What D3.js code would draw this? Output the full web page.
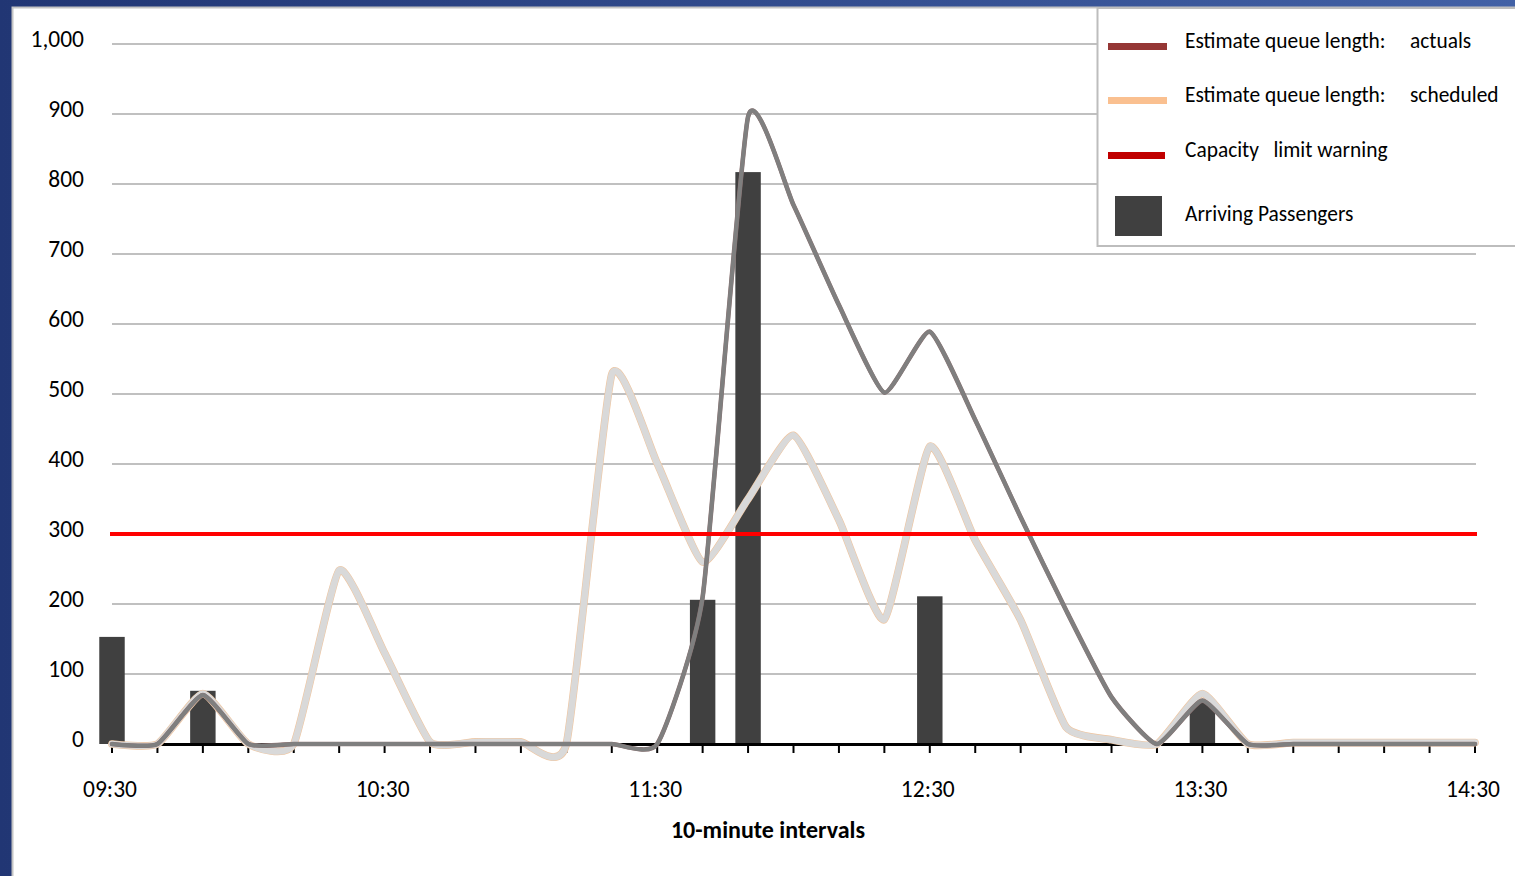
<!DOCTYPE html>
<html>
<head>
<meta charset="utf-8">
<script src="https://cdn.jsdelivr.net/npm/d3@7"></script>
<style>
  body { margin: 0; background: #ffffff; }
  svg text { font-family: Calibri, Carlito, Lato, sans-serif; fill: #000; }
</style>
</head>
<body>
<div id="chart"></div>
<script>
// 10-minute slots from 09:30 to 14:30 (31 points)
var hourLabels = ["09:30", "10:30", "11:30", "12:30", "13:30", "14:30"];
var yTicks = [0, 100, 200, 300, 400, 500, 600, 700, 800, 900, 1000];

var arrivals = [153, 0, 76, 0, 0, 0, 0, 0, 0, 0, 0, 0, 0, 206, 817, 0,
  0, 0, 211, 0, 0, 0, 0, 0, 63, 0, 0, 0, 0, 0, 0];

var queueActuals = [0, 0, 70, 0, 0, 0, 0, 0, 0, 0, 0, 0, 0, 210, 896, 770,
  627, 502, 589, 463, 324, 191, 67, 0, 62, 0, 0, 0, 0, 0, 0];

var queueScheduled = [0, 0, 72, 0, 0, 248, 130, 3, 3, 3, 0, 528, 401, 260, 350, 441,
  320, 178, 425, 291, 177, 24, 6, 0, 72, 0, 2, 2, 2, 2, 2];

var capacityLimit = 300;

var legendItems = [
  { label: "Estimate queue length:", extra: "actuals", color: "#953735", type: "line" },
  { label: "Estimate queue length:", extra: "scheduled", color: "#fac090", type: "line" },
  { label: "Capacity   limit warning", extra: "", color: "#c00000", type: "line" },
  { label: "Arriving Passengers", extra: "", color: "#404040", type: "box" }
];

var width = 1515,
  height = 876;

var svg = d3.select("#chart")
  .append("svg")
  .attr("width", width)
  .attr("height", height);

// blue slide frame behind the chart
var defs = svg.append("defs");
var grad = defs.append("linearGradient")
  .attr("id", "frame")
  .attr("x1", "0%").attr("x2", "100%");
grad.append("stop").attr("offset", "0%").attr("stop-color", "#213674");
grad.append("stop").attr("offset", "100%").attr("stop-color", "#4261a6");

svg.append("rect")
  .attr("width", width)
  .attr("height", height)
  .attr("fill", "url(#frame)");

svg.append("rect")
  .attr("x", 12.5)
  .attr("y", 7.5)
  .attr("width", width)
  .attr("height", height)
  .attr("fill", "#fff")
  .attr("stroke", "#c4c4c4")
  .attr("stroke-width", 2);

var x = d3.scaleLinear()
  .domain([0, 30])
  .range([112, 1475]);

var y = d3.scaleLinear()
  .domain([0, 1000])
  .range([744, 44]);

var step = x(1) - x(0);

// gridlines
svg.append("g")
  .attr("class", "grid")
  .selectAll("line")
  .data(yTicks.filter(function(d) { return d > 0; }))
  .enter().append("line")
  .attr("x1", x(0))
  .attr("x2", x(30) + 1)
  .attr("y1", function(d) { return y(d); })
  .attr("y2", function(d) { return y(d); })
  .attr("stroke", "#c0c0c0")
  .attr("stroke-width", 2);

// y labels
svg.append("g")
  .selectAll("text")
  .data(yTicks)
  .enter().append("text")
  .attr("x", 84)
  .attr("y", function(d) { return y(d) + 3; })
  .attr("text-anchor", "end")
  .attr("font-size", "23.5px")
  .text(function(d) { return d3.format(",")(d); });

// arriving passengers bars
svg.append("g")
  .selectAll("rect")
  .data(arrivals.map(function(v, i) { return { i: i, v: v }; }).filter(function(d) { return d.v > 0; }))
  .enter().append("rect")
  .attr("x", function(d) { return x(d.i) - step * 0.28; })
  .attr("width", step * 0.56)
  .attr("y", function(d) { return y(d.v); })
  .attr("height", function(d) { return y(0) - y(d.v); })
  .attr("fill", "#404040");

// x axis line and ticks
svg.append("line")
  .attr("x1", x(0) - 2)
  .attr("x2", x(30) + 2)
  .attr("y1", y(0) + 0.5)
  .attr("y2", y(0) + 0.5)
  .attr("stroke", "#000")
  .attr("stroke-width", 3);

svg.append("g")
  .selectAll("line")
  .data(d3.range(0, 31))
  .enter().append("line")
  .attr("x1", function(d) { return x(d); })
  .attr("x2", function(d) { return x(d); })
  .attr("y1", y(0))
  .attr("y2", y(0) + 9)
  .attr("stroke", "#000")
  .attr("stroke-width", 2);

svg.append("g")
  .selectAll("text")
  .data(hourLabels)
  .enter().append("text")
  .attr("x", function(d, i) { return x(i * 6) - 2; })
  .attr("y", 797)
  .attr("text-anchor", "middle")
  .attr("font-size", "23.5px")
  .text(function(d) { return d; });

svg.append("text")
  .attr("x", 768)
  .attr("y", 838)
  .attr("text-anchor", "middle")
  .attr("font-size", "24px")
  .attr("font-weight", "bold")
  .text("10-minute intervals");

// smoothed queue lines
var line = d3.line()
  .x(function(d, i) { return x(i); })
  .y(function(d) { return y(d); })
  .curve(d3.curveCardinal.tension(0.5));

function drawQueue(data, edge, fill, w, extra) {
  svg.append("path")
    .datum(data)
    .attr("d", line)
    .attr("fill", "none")
    .attr("stroke", edge)
    .attr("stroke-width", w + extra)
    .attr("stroke-linejoin", "round")
    .attr("stroke-linecap", "round");
  svg.append("path")
    .datum(data)
    .attr("d", line)
    .attr("fill", "none")
    .attr("stroke", fill)
    .attr("stroke-width", w)
    .attr("stroke-linejoin", "round")
    .attr("stroke-linecap", "round");
}

drawQueue(queueScheduled, "#f0c6a0", "#d9d9d9", 6.5, 1.2);
drawQueue(queueActuals, "#8c7070", "#7f7f7f", 4, 0.6);

// capacity warning
svg.append("line")
  .attr("x1", x(0) - 2)
  .attr("x2", x(30) + 2)
  .attr("y1", y(capacityLimit))
  .attr("y2", y(capacityLimit))
  .attr("stroke", "#ff0000")
  .attr("stroke-width", 4);

// legend
var legend = svg.append("g").attr("class", "legend");

legend.append("rect")
  .attr("x", 1097.5)
  .attr("y", 8)
  .attr("width", 440)
  .attr("height", 238)
  .attr("fill", "#fff")
  .attr("stroke", "#bdbdbd")
  .attr("stroke-width", 2);

var rowY = [48, 102, 157, 221];

var rows = legend.selectAll("g.item")
  .data(legendItems)
  .enter().append("g")
  .attr("class", "item");

rows.filter(function(d) { return d.type === "line"; })
  .append("rect")
  .attr("x", 1108)
  .attr("y", function(d, i) { return rowY[i] - 5; })
  .attr("width", function(d, i) { return i === 2 ? 57 : 59; })
  .attr("height", 7)
  .attr("fill", function(d) { return d.color; });

rows.filter(function(d) { return d.type === "box"; })
  .append("rect")
  .attr("x", 1115)
  .attr("y", 196)
  .attr("width", 47)
  .attr("height", 40)
  .attr("fill", function(d) { return d.color; });

rows.append("text")
  .attr("x", 1185)
  .attr("y", function(d, i) { return rowY[i]; })
  .attr("font-size", "21.4px")
  .attr("xml:space", "preserve")
  .style("white-space", "pre")
  .text(function(d) { return d.label; });

rows.append("text")
  .attr("x", 1410)
  .attr("y", function(d, i) { return rowY[i]; })
  .attr("font-size", "21.4px")
  .text(function(d) { return d.extra; });
</script>
</body>
</html>
